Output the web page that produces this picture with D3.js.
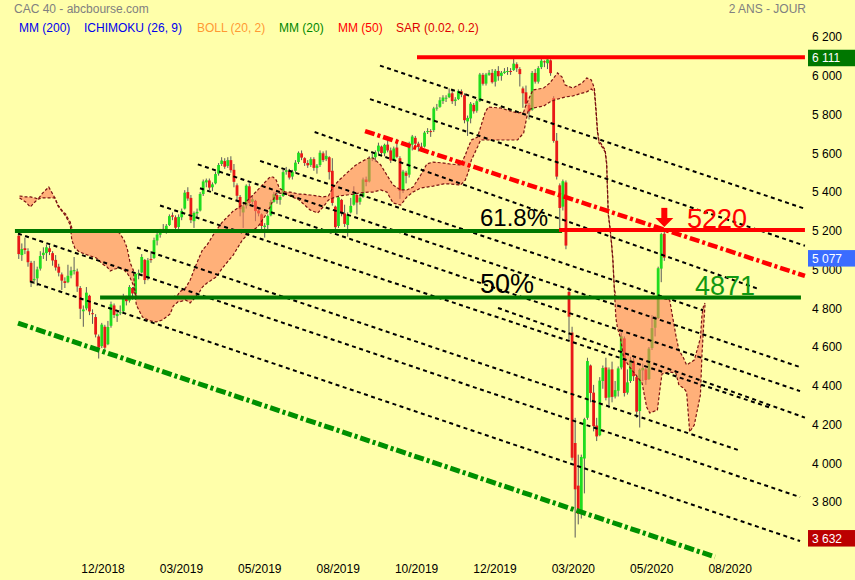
<!DOCTYPE html>
<html>
<head>
<meta charset="utf-8">
<script src="https://cdn.jsdelivr.net/npm/d3@7/dist/d3.min.js"></script>
<style>
  body { margin: 0; background: #ffffaa; }
  svg { display: block; font-family: "Liberation Sans", Arial, sans-serif; }
</style>
</head>
<body>
<svg id="chart" width="855" height="580"></svg>
<script>
//---------------------------------- Data --------------------
// one candle every two trading days, bar k covers days 2k and 2k+1 (day 0 = 11/10/2018)
var candleO = [5190,5090,5125,5110,5050,4960,4970,5020,5090,5100,
  5125,5100,5065,5030,4990,4955,4950,4985,5010,5005,
  4920,4800,4815,4880,4790,4770,4670,4620,4720,4630,
  4725,4830,4775,4790,4800,4865,4855,4920,4890,4995,
  5000,5065,4970,5070,5075,5165,5195,5225,5215,5245,
  5295,5285,5235,5285,5330,5415,5385,5265,5305,5320,
  5405,5465,5475,5440,5460,5510,5560,5575,5550,5580,
  5530,5450,5390,5310,5345,5445,5365,5370,5320,5300,
  5235,5245,5295,5365,5400,5375,5395,5520,5525,5495,
  5525,5570,5615,5590,5565,5555,5585,5540,5555,5615,
  5585,5595,5525,5340,5240,5375,5305,5245,5310,5350,
  5400,5365,5390,5480,5470,5590,5595,5625,5650,5615,
  5660,5630,5580,5645,5590,5425,5515,5505,5660,5695,
  5665,5650,5650,5725,5730,5735,5850,5855,5885,5900,
  5905,5925,5885,5895,5935,5915,5780,5795,5865,5835,
  5885,6020,5975,6020,6030,5985,6040,6015,6030,6040,
  6040,6045,6075,6050,5950,5930,5865,5840,6030,5985,
  6060,6090,6080,6095,5900,5680,5450,5340,5465,4900,
  4690,4120,3900,3760,4040,4250,4520,4380,4210,4160,
  4440,4510,4355,4500,4360,4390,4510,4660,4380,4440,
  4545,4460,4285,4495,4500,4450,4610,4715,4765,5020,
  5200];
var candleH = [5215,5150,5180,5125,5060,5060,5030,5110,5130,5145,
  5140,5110,5090,5045,5000,4975,5040,5030,5080,5020,
  4930,4830,4925,4885,4810,4785,4680,4740,4730,4750,
  4850,4840,4800,4830,4890,4880,4935,4925,5000,5015,
  5095,5070,5075,5110,5180,5205,5225,5250,5250,5300,
  5310,5295,5300,5330,5425,5440,5400,5315,5330,5415,
  5480,5485,5485,5465,5520,5565,5595,5590,5595,5600,
  5560,5460,5400,5350,5455,5460,5400,5375,5335,5305,
  5255,5300,5375,5415,5410,5400,5530,5545,5535,5530,
  5580,5625,5630,5595,5580,5595,5595,5560,5630,5625,
  5630,5600,5590,5345,5395,5380,5350,5310,5385,5445,
  5410,5400,5490,5495,5600,5615,5630,5670,5655,5665,
  5695,5645,5650,5690,5600,5530,5525,5675,5710,5705,
  5675,5670,5730,5745,5740,5855,5870,5905,5915,5915,
  5950,5945,5905,5945,5945,5925,5810,5880,5875,5895,
  6030,6030,6030,6045,6050,6050,6065,6040,6055,6060,
  6055,6105,6085,6060,5960,5965,5875,6040,6050,6065,
  6110,6095,6111,6100,5910,5720,5460,5480,5475,4925,
  4720,4250,4060,4060,4250,4560,4525,4420,4250,4460,
  4520,4560,4510,4540,4440,4515,4690,4670,4500,4565,
  4560,4470,4505,4530,4510,4615,4780,4775,5030,5205,
  5220];
var candleL = [5070,5060,5095,5030,4925,4940,4930,5010,5070,5060,
  5090,5035,5010,4980,4910,4920,4945,4970,4990,4900,
  4760,4720,4805,4780,4735,4665,4556,4610,4590,4625,
  4715,4765,4745,4780,4795,4830,4845,4860,4880,4965,
  4995,4940,4960,5050,5070,5140,5180,5205,5200,5240,
  5270,5210,5225,5270,5325,5370,5255,5230,5285,5315,
  5395,5440,5425,5420,5455,5500,5550,5535,5540,5515,
  5440,5375,5290,5230,5330,5345,5350,5265,5290,5205,
  5180,5220,5290,5360,5355,5350,5390,5505,5480,5480,
  5515,5560,5580,5550,5540,5545,5525,5510,5545,5570,
  5575,5480,5345,5200,5230,5290,5235,5185,5305,5345,
  5300,5350,5385,5445,5465,5575,5570,5610,5600,5600,
  5620,5565,5575,5590,5380,5410,5460,5490,5630,5650,
  5625,5630,5645,5715,5700,5725,5835,5850,5870,5880,
  5900,5870,5860,5890,5905,5770,5705,5770,5820,5825,
  5880,5965,5965,6015,5975,5960,5990,5990,6025,6020,
  6020,6040,6035,5960,5850,5860,5790,5835,5975,5975,
  6050,6060,6050,6015,5670,5480,5220,5320,5120,4650,
  4030,3632,3700,3730,3860,4240,4330,4180,4130,4155,
  4400,4340,4300,4330,4350,4360,4500,4360,4370,4430,
  4440,4250,4200,4440,4420,4445,4600,4670,4760,4950,
  5060];
var candleC = [5095,5121,5116,5053,4953,4967,5016,5085,5102,5130,
  5106,5062,5026,4999,4958,4946,4983,5010,5012,4928,
  4813,4809,4896,4799,4786,4680,4612,4731,4612,4719,
  4836,4781,4786,4795,4869,4852,4925,4892,4993,4996,
  5080,4961,5063,5064,5167,5196,5215,5218,5241,5291,
  5288,5231,5287,5318,5412,5382,5270,5307,5313,5405,
  5470,5476,5438,5455,5508,5555,5578,5546,5580,5528,
  5468,5396,5327,5341,5448,5359,5378,5317,5305,5240,
  5242,5292,5364,5404,5375,5390,5518,5528,5490,5520,
  5567,5618,5593,5565,5553,5585,5540,5552,5618,5580,
  5602,5518,5359,5234,5388,5310,5251,5300,5344,5406,
  5361,5386,5480,5467,5590,5593,5620,5655,5617,5659,
  5630,5578,5640,5597,5422,5521,5499,5665,5702,5665,
  5648,5648,5722,5730,5729,5847,5851,5889,5903,5902,
  5924,5884,5893,5937,5918,5786,5798,5871,5832,5884,
  6022,5974,6022,6031,5982,6041,6013,6031,6037,6040,
  6039,6078,6054,6024,5925,5871,5832,6030,5985,6055,
  6093,6085,6100,6029,5679,5495,5333,5471,5139,4772,
  4044,3881,3754,4048,4243,4543,4378,4207,4154,4442,
  4507,4353,4499,4358,4393,4505,4671,4378,4433,4550,
  4465,4282,4498,4508,4445,4607,4713,4762,5022,5198,
  5077];

// ichimoku cloud edges (trading day, upper and lower span)
var cloudT  = [1,5,8,11,13,16,20,24,26,29,31,33,34,35,37,40,47,51,55,58,60,63,66,69,71,73,75,76,77,81,86,90,94,99,101,104,105,109,112,115,118,120,123,125,129,133,140,146,151,156,159,162,164,166,168,170,174,177,183,185,190,195,198,202,205,209,214,219,222,228,231,236,240,244,249,253,257,262,266,270,277,281,288,291,293,295,299,301,304,306,314,320,325,329,330,332,335,342,346,349,351,354,356,361,367,370,373,375,376,377,378,380,382,383,384,385,386,387,388,389,390,392,394,398,406,409,411,416,418,419,424,428,430,433,435,437,440,444,445,446,447];
var cloudHi = [5395,5390,5390,5385,5379,5410,5441,5385,5348,5317,5302,5271,5261,5230,5214,5214,5214,5214,5214,5214,5214,5214,5204,5168,5126,5049,5013,4910,4874,4874,4874,4874,4874,4874,4874,4884,4899,4920,4961,5023,5080,5116,5142,5168,5219,5261,5317,5348,5385,5426,5452,5477,5493,5493,5477,5436,5415,5415,5405,5405,5400,5395,5390,5395,5441,5477,5514,5550,5565,5591,5591,5555,5503,5452,5426,5426,5441,5503,5560,5570,5565,5560,5555,5606,5648,5684,5699,5751,5828,5854,5849,5834,5823,5828,5854,5890,5942,5952,5978,6009,6030,6009,5968,5952,5978,6004,5994,5952,5849,5735,5679,5658,5632,5565,5312,5245,5168,5075,4920,4874,4868,4868,4868,4868,4868,4868,4868,4868,4868,4868,4858,4677,4600,4559,4523,4533,4548,4662,4781,4827,4843];
var cloudLo = [5385,5364,5338,5364,5379,5385,5385,5385,5343,5312,5292,5261,5245,5168,5126,5106,5085,5075,5044,5028,5008,5018,5023,5013,4997,4972,4935,4899,4832,4770,4750,4745,4755,4786,4827,4848,4848,4858,4843,4868,4899,4925,4946,4956,4977,5023,5090,5168,5209,5235,5271,5307,5338,5374,5410,5410,5405,5395,5374,5359,5323,5307,5333,5374,5385,5395,5400,5405,5410,5415,5415,5426,5415,5359,5348,5390,5415,5436,5441,5446,5457,5457,5452,5477,5519,5581,5648,5684,5684,5684,5684,5684,5684,5720,5761,5839,5849,5859,5880,5890,5895,5901,5906,5911,5926,5932,5947,5932,5839,5725,5669,5648,5622,5555,5302,5235,5158,5065,4910,4765,4714,4662,4559,4512,4430,4306,4275,4290,4419,4476,4486,4481,4419,4404,4383,4177,4213,4368,4574,4714,4837];

// dotted channel lines, from (day, price) to (day, price)
var dotFromT = [235.5,229,193,157.5,117,118.4,312.3,92.4,77.4,0,7.8];
var dotFromV = [6068,5895,5725,5576,5558,5435,4817,5346,5129,5201,4954];
var dotToT   = [512,512,482.8,445.7,508.8,508.8,512,489.3,468.4,508.8,508.8];
var dotToV   = [5329,5138,4912,4805,4512,4388,4251,4303,4084,3841,3614];

// dash-dot lines: red resistance, green support
var dashFromT = [225.8, 0];
var dashFromV = [5730, 4739];
var dashToT   = [512, 453.5];
var dashToV   = [4982, 3532];

// horizontal levels
var levelV    = [5214, 5220, 4871, 6111];
var levelFrom = [-2, 352, 53.4, 259.6];
var levelTo   = [354, 512, 509.4, 512];

var yTicks = [3800,4000,4200,4400,4600,4800,5000,5200,5400,5600,5800,6000,6200];
var tickT = [55,106,157,208,259,310,361,412,463];
var tickLabels = ["12/2018","03/2019","05/2019","08/2019","10/2019","12/2019","03/2020","05/2020","08/2020"];
var markerV = [6111, 5077, 3632];
var legendText = ["MM (200)","ICHIMOKU (26, 9)","BOLL (20, 2)","MM (20)","MM (50)","SAR (0.02, 0.2)"];

//---------------------------------- Styles --------------------
var levelStyle  = ["#007700", "#ff0000", "#007700", "#ff0000"];
var dashStyle   = [{c:"#ff0000", w:4.5}, {c:"#009000", w:5}];
var markerStyle = ["#007700", "#3a6cff", "#bb0000"];
var legendX     = [19, 84, 197, 279, 338, 396];
var legendColor = ["#0000ee","#0000ee","#ff9933","#008800","#ff0000","#dd0000"];

var width = 855, height = 580;
var svg = d3.select("#chart");

svg.append("rect").attr("width", width).attr("height", height).attr("fill", "#ffffaa");

var x = d3.scaleLinear().domain([0, 500]).range([18, 18 + 500 * 1.537]);
var y = d3.scaleLinear().domain([3800, 6200]).range([505, 40]);

//---------------------------------- Candles --------------------
var bars = candleC.map(function(c, i) {
  return {t: 2 * i + 0.5, o: candleO[i], h: candleH[i], l: candleL[i], c: c};
});

var gCandles = svg.append("g");
gCandles.selectAll(".wick").data(bars).enter().append("line")
  .attr("class", "wick")
  .attr("x1", function(d) { return x(d.t); })
  .attr("x2", function(d) { return x(d.t); })
  .attr("y1", function(d) { return y(d.h); })
  .attr("y2", function(d) { return y(d.l); })
  .attr("stroke", "#5a5a5a")
  .attr("stroke-width", 1);

gCandles.selectAll(".body").data(bars).enter().append("rect")
  .attr("class", "body")
  .attr("x", function(d) { return x(d.t) - 1.4; })
  .attr("width", 2.8)
  .attr("y", function(d) { return y(Math.max(d.o, d.c)); })
  .attr("height", function(d) { return Math.max(1, Math.abs(y(d.o) - y(d.c))); })
  .attr("fill", function(d) { return d.c >= d.o ? "#1fdc1f" : "#e81818"; });

//---------------------------------- Ichimoku cloud --------------------
var cloud = cloudT.map(function(t, i) { return {t: t, hi: cloudHi[i], lo: cloudLo[i]}; });

svg.append("path").datum(cloud)
  .attr("d", d3.area().x(function(d) { return x(d.t); })
    .y0(function(d) { return y(d.lo); })
    .y1(function(d) { return y(d.hi); }))
  .attr("fill", "#ff7b58")
  .attr("fill-opacity", 0.6);

["hi", "lo"].forEach(function(k) {
  svg.append("path").datum(cloud)
    .attr("d", d3.line().x(function(d) { return x(d.t); }).y(function(d) { return y(d[k]); }))
    .attr("fill", "none")
    .attr("stroke", "#7a1212")
    .attr("stroke-width", 1.2)
    .attr("stroke-dasharray", "3,2");
});

//---------------------------------- Trend lines --------------------
svg.selectAll(".dotline").data(dotFromT).enter().append("line")
  .attr("class", "dotline")
  .attr("x1", function(d, i) { return x(dotFromT[i]); })
  .attr("y1", function(d, i) { return y(dotFromV[i]); })
  .attr("x2", function(d, i) { return x(dotToT[i]); })
  .attr("y2", function(d, i) { return y(dotToV[i]); })
  .attr("stroke", "#000")
  .attr("stroke-width", 2)
  .attr("stroke-dasharray", "4,3.5");

svg.selectAll(".dashline").data(dashFromT).enter().append("line")
  .attr("class", "dashline")
  .attr("x1", function(d, i) { return x(dashFromT[i]); })
  .attr("y1", function(d, i) { return y(dashFromV[i]); })
  .attr("x2", function(d, i) { return x(dashToT[i]); })
  .attr("y2", function(d, i) { return y(dashToV[i]); })
  .attr("stroke", function(d, i) { return dashStyle[i].c; })
  .attr("stroke-width", function(d, i) { return dashStyle[i].w; })
  .attr("stroke-dasharray", "10,3,3,3");

svg.selectAll(".level").data(levelV).enter().append("line")
  .attr("class", "level")
  .attr("x1", function(d, i) { return x(levelFrom[i]); })
  .attr("x2", function(d, i) { return x(levelTo[i]); })
  .attr("y1", function(d) { return y(d); })
  .attr("y2", function(d) { return y(d); })
  .attr("stroke", function(d, i) { return levelStyle[i]; })
  .attr("stroke-width", 4);

//---------------------------------- Annotations --------------------
svg.append("text").attr("x", 480).attr("y", 226).attr("font-size", 24).attr("fill", "#000").text("61.8%");
svg.append("text").attr("x", 480).attr("y", 293).attr("font-size", 27).attr("fill", "#000").text("50%");
svg.append("text").attr("x", 687).attr("y", 228).attr("font-size", 27).attr("fill", "#ff0000").text("5220");
svg.append("text").attr("x", 695).attr("y", 295).attr("font-size", 27).attr("fill", "#119911").text("4871");

var ax = x(420.5), ay = y(5220);
svg.append("rect").attr("x", ax - 3).attr("y", ay - 22).attr("width", 6).attr("height", 11).attr("fill", "#ff0000");
svg.append("path")
  .attr("d", "M" + (ax - 9) + "," + (ay - 12) + "L" + (ax + 9) + "," + (ay - 12) + "L" + ax + "," + (ay - 3) + "Z")
  .attr("fill", "#ff0000");

//---------------------------------- Axes --------------------
var fmt = d3.formatLocale({decimal: ",", thousands: " ", grouping: [3], currency: ["", ""]}).format(",d");

var yAxis = svg.append("g")
  .attr("transform", "translate(812,-3)")
  .call(d3.axisRight(y).tickValues(yTicks).tickFormat(fmt).tickSize(0).tickPadding(0));
yAxis.select(".domain").remove();
yAxis.attr("font-size", 12).attr("font-family", null);
yAxis.selectAll("text").attr("fill", "#000");

var xAxis = svg.append("g")
  .attr("transform", "translate(0,564)")
  .call(d3.axisBottom(x).tickValues(tickT).tickFormat(function(d, i) { return tickLabels[i]; }).tickSize(0).tickPadding(0));
xAxis.select(".domain").remove();
xAxis.attr("font-size", 12).attr("font-family", null);
xAxis.selectAll("text").attr("fill", "#000");

// last / high / low value boxes
var boxes = svg.selectAll(".valbox").data(markerV).enter().append("g").attr("class", "valbox");
boxes.append("rect")
  .attr("x", 808).attr("width", 47)
  .attr("y", function(d) { return y(d) - 7.5; })
  .attr("height", 16.5)
  .attr("fill", function(d, i) { return markerStyle[i]; });
boxes.append("text")
  .attr("x", 812)
  .attr("y", function(d) { return y(d) + 5; })
  .attr("font-size", 12)
  .attr("fill", "#fff")
  .text(function(d) { return fmt(d); });

//---------------------------------- Header --------------------
svg.append("text").attr("x", 14).attr("y", 13).attr("font-size", 12).attr("fill", "#808080").text("CAC 40 - abcbourse.com");
svg.append("text").attr("x", 806).attr("y", 13).attr("font-size", 12).attr("fill", "#808080")
  .attr("text-anchor", "end").text("2 ANS - JOUR");

svg.selectAll(".legend").data(legendText).enter().append("text")
  .attr("class", "legend")
  .attr("x", function(d, i) { return legendX[i]; })
  .attr("y", 32)
  .attr("font-size", 12)
  .attr("fill", function(d, i) { return legendColor[i]; })
  .text(function(d) { return d; });
</script>
</body>
</html>
